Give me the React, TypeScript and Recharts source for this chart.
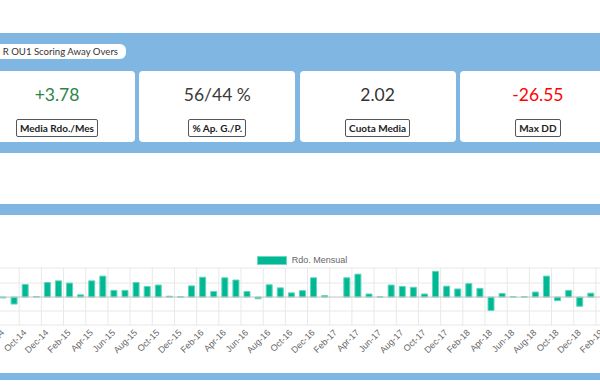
import React from "react";
import { Bar, BarChart, CartesianGrid, Legend, ReferenceLine, XAxis, YAxis } from "recharts";

const months = [
  "Aug-14", "Sep-14", "Oct-14", "Nov-14", "Dec-14",
  "Jan-15", "Feb-15", "Mar-15", "Apr-15", "May-15", "Jun-15", "Jul-15", "Aug-15", "Sep-15", "Oct-15", "Nov-15", "Dec-15",
  "Jan-16", "Feb-16", "Mar-16", "Apr-16", "May-16", "Jun-16", "Jul-16", "Aug-16", "Sep-16", "Oct-16", "Nov-16", "Dec-16",
  "Jan-17", "Feb-17", "Mar-17", "Apr-17", "May-17", "Jun-17", "Jul-17", "Aug-17", "Sep-17", "Oct-17", "Nov-17", "Dec-17",
  "Jan-18", "Feb-18", "Mar-18", "Apr-18", "May-18", "Jun-18", "Jul-18", "Aug-18", "Sep-18", "Oct-18", "Nov-18", "Dec-18",
  "Jan-19", "Feb-19",
];

const rdoMensual = [
  -0.3, -2.5, 4.5, 0.2, 5.2,
  5.8, 5.0, 0.8, 5.8, 7.5, 2.4, 2.4, 5.2, 3.8, 4.3, 0.3, 0.1,
  4.0, 7.1, 2.0, 6.9, 6.1, 2.0, -0.6, 4.4, 3.3, 1.5, 2.3, 6.9,
  0.5, 0, 6.9, 8.2, 1.1, 0.1, 4.3, 3.8, 3.5, 1.1, 9.2, 3.9,
  2.9, 4.8, 3.1, -4.8, 1.3, 0.1, 0.1, 1.8, 7.5, -1.3, 2.4, -3.3,
  1.4, 0,
];

const yTicks = [-10, -5, 0, 5];

const kpiValues = ["+3.78", "56/44 %", "2.02", "-26.55"];
const kpiLabels = ["Media Rdo./Mes", "% Ap. G./P.", "Cuota Media", "Max DD"];
const kpiColors = ["#2c8446", "#3a3a3a", "#333333", "#ff0000"];

const tabTitle = "R OU1 Scoring Away Overs";

const data = months.map((m, i) => ({ month: m, rdo: rdoMensual[i] }));

const BLUE = "#80b6e2";
const TEAL = "#00b894";

function MonthTick(props: any) {
  const { x, y, payload } = props;
  return (
    <text
      x={x}
      y={y}
      dy="0.35em"
      textAnchor="end"
      transform={`rotate(-45, ${x}, ${y})`}
      fontSize={9}
      fill="#666"
      fontFamily="'Liberation Sans', Arial, sans-serif"
    >
      {payload.value}
    </text>
  );
}

function LegendBox(props: any) {
  const item = props.payload && props.payload[0];
  return (
    <div style={{ display: "flex", justifyContent: "center", alignItems: "center", paddingTop: 8, height: 16 }}>
      <span style={{ display: "inline-block", width: 28, height: 7, background: TEAL, border: "1px solid #6fd9c2", marginRight: 5 }} />
      <span style={{ fontSize: 9, color: "#666", fontFamily: "'Liberation Sans', Arial, sans-serif" }}>
        {item ? item.value : "Rdo. Mensual"}
      </span>
    </div>
  );
}

const gridX = ({ offset }: any) => {
  const band = offset.width / months.length;
  const xs: number[] = [];
  for (let k = 0; k < months.length; k += 2) xs.push(offset.left + k * band);
  return xs;
};

export default function App() {
  return (
    <div style={{ position: "fixed", left: 0, top: 0, width: 600, height: 390, overflow: "hidden", background: "#fff", fontFamily: "Lato, sans-serif" }}>
      <div style={{ position: "absolute", left: 0, top: 33, width: 600, height: 120, background: BLUE }} />
      <div
        style={{
          position: "absolute", right: 474, top: 44, height: 15, background: "#fff", borderRadius: 6,
          padding: "0 8px 0 12px", fontSize: 9.6, lineHeight: "15px", color: "#333", whiteSpace: "nowrap",
        }}
      >
        {tabTitle}
      </div>
      {kpiValues.map((v, i) => (
        <div key={i} style={{ position: "absolute", left: -21 + i * 160.3, top: 71, width: 156, height: 71, background: "#fff", borderRadius: 4 }}>
          <div style={{ position: "absolute", left: 0, right: 0, top: 15, textAlign: "center", fontSize: 17.5, lineHeight: "17px", color: kpiColors[i] }}>
            {v}
          </div>
          <div style={{ position: "absolute", left: 0, right: 0, top: 45, textAlign: "center" }}>
            <span
              style={{
                display: "inline-block", border: "1px solid #555", borderRadius: 2, padding: "1px 3px",
                fontSize: 10, lineHeight: "14px", fontWeight: 700, color: "#222",
              }}
            >
              {kpiLabels[i]}
            </span>
          </div>
        </div>
      ))}
      <div style={{ position: "absolute", left: 0, top: 204, width: 600, height: 11, background: BLUE }} />
      <div style={{ position: "absolute", left: -3, top: 244 }}>
        <BarChart width={610} height={126} data={data} margin={{ top: 0, right: 0, bottom: 0, left: 0 }} barSize={6}>
          <CartesianGrid stroke="#e8e8e8" verticalCoordinatesGenerator={gridX} />
          <YAxis hide domain={[-10, 10.4]} ticks={yTicks} />
          <XAxis
            dataKey="month"
            interval={1}
            axisLine={false}
            tickLine={false}
            tickSize={0}
            tickMargin={6}
            height={45}
            tick={<MonthTick />}
          />
          <ReferenceLine y={0} stroke="#c4c4c4" />
          <Legend verticalAlign="top" height={24} content={<LegendBox />} />
          <Bar dataKey="rdo" name="Rdo. Mensual" fill={TEAL} stroke="#5fd6bc" strokeWidth={1} isAnimationActive={false} />
        </BarChart>
      </div>
      <div style={{ position: "absolute", left: 0, top: 373, width: 600, height: 7, background: BLUE }} />
    </div>
  );
}
